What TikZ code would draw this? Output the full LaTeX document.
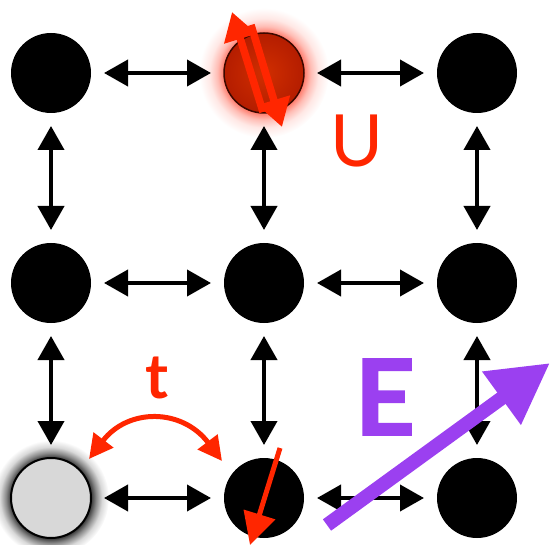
\documentclass[tikz,border=0pt]{standalone}
\usepackage{fontspec}
\usetikzlibrary{arrows.meta}
\newfontfamily\labelfont{Lato}
\newfontfamily\heavyfont[FakeBold=1.6]{Lato}
\definecolor{hopred}{RGB}{255,38,0}
\definecolor{sitered}{RGB}{200,32,0}
\definecolor{siteredrim}{RGB}{60,8,0}
\definecolor{fieldpurple}{RGB}{155,64,240}
\definecolor{holegray}{RGB}{216,216,216}
\definecolor{glowred}{RGB}{255,90,70}

% halo behind the doubly occupied site (edge of the disc at 15.4bp of 25bp)
\pgfdeclareradialshading{redhalo}{\pgfpoint{0bp}{0bp}}{%
  color(0bp)=(glowred!80); color(15.4bp)=(glowred!80); color(18bp)=(glowred!40);
  color(21bp)=(glowred!14); color(25bp)=(white); color(50bp)=(white)}
% dark halo behind the empty site (edge of the disc at 17.2bp of 25bp)
\pgfdeclareradialshading{grayhalo}{\pgfpoint{0bp}{0bp}}{%
  color(0bp)=(black!80); color(17.2bp)=(black!80); color(19.5bp)=(black!45);
  color(22bp)=(black!15); color(25bp)=(white); color(50bp)=(white)}

\tikzset{
  site/.style={circle, minimum size=80pt, inner sep=0pt, outer sep=13pt, fill=black},
  hop/.style={line width=4pt, {Triangle[length=24pt,width=26pt]}-{Triangle[length=24pt,width=26pt]}},
  spin/.style={hopred, line width=7.5pt, -{Triangle[length=28pt,width=32pt]}},
}

\begin{document}
\begin{tikzpicture}[x=1pt,y=-1pt]
\useasboundingbox (0,0) rectangle (551,545);

% halos
\shade[shading=redhalo] (264,73) circle (65);
\shade[shading=grayhalo] (51,498) circle (58);

% lattice sites
\node[site] (a1) at (51,73) {};
\node[site, fill=sitered, draw=siteredrim, line width=1.5pt,
      inner color=sitered!85!orange, outer color=sitered!90!black] (a2) at (264,73) {};
\node[site] (a3) at (477,73) {};
\node[site] (b1) at (51,283) {};
\node[site] (b2) at (264,283) {};
\node[site] (b3) at (477,283) {};
\node[site, fill=holegray, draw=black, line width=2pt] (c1) at (51,498) {};
\node[site] (c2) at (264,498) {};
\node[site] (c3) at (477,498) {};

% hopping between neighbours
\foreach \u/\v in {a1/a2,a2/a3,b1/b2,b2/b3,c1/c2,c2/c3,a1/b1,a2/b2,a3/b3,b1/c1,b2/c2,b3/c3}
  \draw[hop] (\u) -- (\v);

% two opposite spins on one site
\coordinate (upTail) at (263,112);
\coordinate (upHead) at (232,12);
\coordinate (dnTail) at (251,25);
\coordinate (dnHead) at (282,127);
\draw[spin] (upTail) -- (upHead);
\draw[spin] (dnTail) -- (dnHead);

% single spin next to the hole
\coordinate (sTail) at (280,448);
\coordinate (sHead) at (250,545);
\draw[hopred, line width=5pt, -{Triangle[length=32pt,width=32pt]}] (sTail) -- (sHead);

% hopping amplitude
\coordinate (tL) at (89,459);
\coordinate (tR) at (222,461);
\draw[hopred, line width=5pt, {Triangle[length=24pt,width=24pt]}-{Triangle[length=24pt,width=24pt]}]
  (tL) .. controls (128,408) and (182,408) .. (tR);

% applied field
\coordinate (eTail) at (327,525);
\coordinate (eHead) at (550,363);
\draw[fieldpurple, line width=14pt, -{Triangle[length=60pt,width=62pt]}] (eTail) -- (eHead);

% labels
\node[inner sep=0pt, text=hopred, font=\labelfont\fontsize{72}{72}\selectfont] (U) at (356.5,141) {U};
\node[inner sep=0pt, text=hopred, font=\labelfont\bfseries\fontsize{62}{62}\selectfont] (t) at (157.5,378) {t};
\node[inner sep=0pt, text=fieldpurple, font=\heavyfont\bfseries\fontsize{105}{105}\selectfont] (E) at (385,397) {E};
\end{tikzpicture}
\end{document}
